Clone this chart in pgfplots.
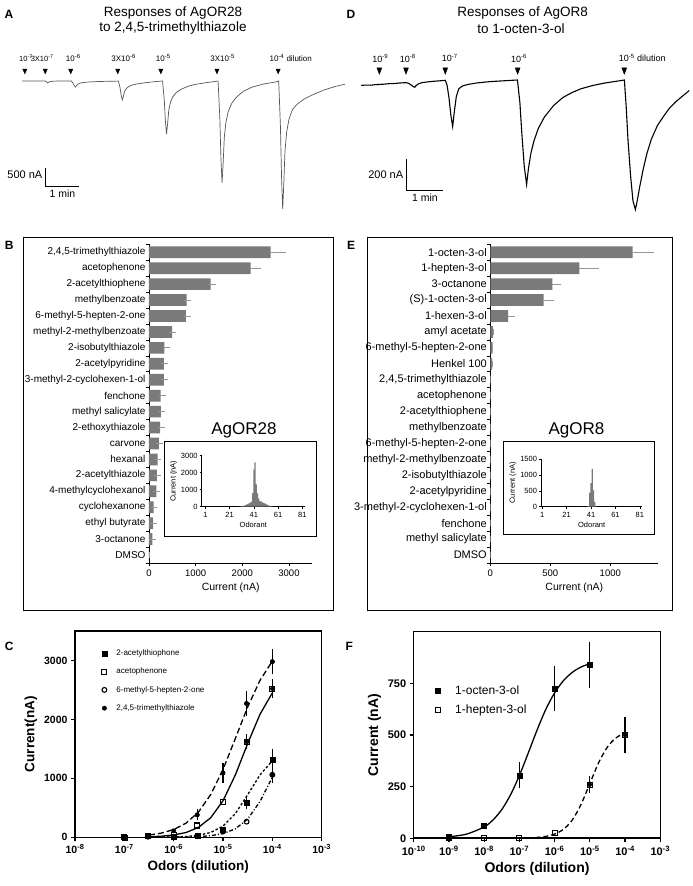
\documentclass[border=0pt]{standalone}
\usepackage{fontspec}
\setmainfont{Liberation Sans}
\usepackage{pgfplots}
\pgfplotsset{compat=1.18}
\usepackage{pgfplotstable}
\newcommand\fs[1]{\fontsize{#1}{#1}\selectfont}
\definecolor{bargray}{RGB}{122,122,122}
\definecolor{errgray}{RGB}{150,150,150}
\definecolor{tracegray}{RGB}{85,85,85}
\pgfplotsset{every axis/.append style={/pgf/number format/assume math mode=true,/pgf/number format/1000 sep={},scaled ticks=false}}

\pgfplotstableread{
t i
0 0
20 0
38 0
41 0
43 -20
45 -56
47 -35
50 -15
56 -5
65 0
84 0
87 0
90 -58
92 -125
94 -167
96 -134
98 -92
101 -67
105 -50
111 -37
119 -27
132 -17
147 -10
167 -4
170 -2
173 -185
175 -396
177 -528
179 -422
181 -290
184 -211
188 -158
194 -116
202 -84
215 -53
230 -25
244 -5
248 0
251 -515
253 -1104
255 -1472
257 -1178
259 -810
262 -589
266 -442
272 -324
280 -236
293 -147
308 -88
328 -40
342 -10
346 0
349 -992
351 -2125
353 -2833
355 -2266
357 -1558
360 -1133
364 -850
370 -623
378 -453
391 -283
406 -170
426 -85
450 -20
453 0
456 -1245
458 -2667
460 -3556
462 -2845
464 -1956
467 -1422
471 -1067
477 -800
485 -650
498 -500
513 -380
533 -250
553 -150
570 -90
}\traceA

\pgfplotstableread{
t i
0 -38
8 -36
16 -37
24 -33
30 -32
38 -30
46 -27
54 -26
62 -23
70 -21
74 -20
78 -25
82 -35
86 -47
88 -50
90 -40
94 -28
100 -20
110 -15
120 -11
130 -8
138 -5
141 -40
144 -120
147 -230
150 -306
153 -200
156 -110
160 -60
166 -42
175 -32
190 -22
210 -14
230 -9
256 -3
260 -150
263 -340
267 -560
271 -684
274 -580
278 -480
283 -400
290 -320
300 -245
315 -170
330 -118
345 -85
360 -60
380 -38
400 -22
420 -10
431 -3
434 -180
437 -400
441 -620
445 -790
449 -847
452 -790
456 -700
462 -580
468 -480
475 -390
485 -300
495 -240
505 -185
515 -145
527 -105
537 -72
}\traceD

\pgfplotstableread{
y x e
19 2608 249
18 2179 150
17 1322 35
16 807 15
15 793 30
14 493 10
13 328 43
12 321 8
11 321 8
10 250 35
9 257 10
8 236 36
7 214 5
6 186 5
5 171 5
4 157 5
3 100 5
2 86 5
1 71 5
0 0 0
}\tabB

\pgfplotstableread{
y x e
19 1187 152
18 742 133
17 517 47
16 445 55
15 148 30
14 22 0
13 20 0
12 15 0
11 0 0
10 0 0
9 0 0
8 0 0
7 0 0
6 0 0
5 0 0
4 0 0
3 0 0
2 0 0
1 0 0
0 0 0
}\tabE

\pgfplotstableread{
x y
28 5
29 10
30 20
31 35
32 50
33 70
34 90
35 120
36 160
37 200
38 240
39 300
40 800
41 2180
42 2610
43 1320
44 790
45 490
46 330
47 320
48 250
49 220
50 190
51 160
52 110
53 80
54 60
55 40
56 20
57 10
}\insB

\pgfplotstableread{
x y
38 15
39 20
40 445
41 742
42 1187
43 517
44 148
45 22
}\insE

\begin{document}
\begin{tikzpicture}
\useasboundingbox (0pt,0pt) rectangle (693pt,886pt);

% panel letters
\node[font=\bfseries\fs{12}] at (9pt,872pt) {A};
\node[font=\bfseries\fs{12}] at (351pt,872pt) {D};
\node[font=\bfseries\fs{12}] at (9.3pt,641pt) {B};
\node[font=\bfseries\fs{12}] at (351pt,641pt) {E};
\node[font=\bfseries\fs{12}] at (9.3pt,239.3pt) {C};
\node[font=\bfseries\fs{12}] at (349.3pt,240pt) {F};

% titles
\node[font=\fs{13.5}] at (173pt,872.7pt) {Responses of AgOR28};
\node[font=\fs{13.5}] at (173pt,857.7pt) {to 2,4,5-trimethylthiazole};
\node[font=\fs{13.5}] at (522.7pt,872.7pt) {Responses of AgOR8};
\node[font=\fs{13.5}] at (521pt,857.7pt) {to 1-octen-3-ol};

% ---------------- A ----------------
\begin{axis}[at={(22pt,671.8pt)}, anchor=south west, x=0.5667pt, y=0.036pt,
  xmin=0, xmax=570, ymin=-3700, ymax=800, axis lines=none, clip=false]
\addplot[tracegray, line width=0.7pt] table[x=t,y=i]{\traceA};
\addplot[only marks, mark=triangle*, mark size=2.4pt, mark options={rotate=180, yscale=1.3, fill=black, draw=black}]
  coordinates {(5,286)(41,286)(86,286)(169,286)(245,286)(344,286)(452,286)};
\node[font=\fs{7.5}, inner sep=0pt] at (axis cs:7,639) {10\textsuperscript{-7}};
\node[font=\fs{7.5}, inner sep=0pt] at (axis cs:35.5,639) {3X10\textsuperscript{-7}};
\node[font=\fs{8}, inner sep=0pt] at (axis cs:90.6,639) {10\textsuperscript{-6}};
\node[font=\fs{8}, inner sep=0pt] at (axis cs:179.4,639) {3X10\textsuperscript{-6}};
\node[font=\fs{8}, inner sep=0pt] at (axis cs:249.4,639) {10\textsuperscript{-5}};
\node[font=\fs{8}, inner sep=0pt] at (axis cs:354.1,639) {3X10\textsuperscript{-5}};
\node[font=\fs{8}, anchor=west, inner sep=0pt] at (axis cs:436.5,639) {10\textsuperscript{-4} dilution};
\draw[black, line width=0.8pt] (axis cs:40.6,-2417) -- (axis cs:40.6,-2917) -- (axis cs:100.6,-2917);
\node[anchor=east, font=\fs{11}, inner sep=1pt] at (axis cs:38,-2611) {500 nA};
\node[font=\fs{10.5}] at (axis cs:71.2,-3120) {1 min};
\end{axis}

% ---------------- D ----------------
\begin{axis}[at={(361pt,668.3pt)}, anchor=south west, x=0.6111pt, y=0.1535pt,
  xmin=0, xmax=540, ymin=-900, ymax=200, axis lines=none, clip=false]
\addplot[black, line width=1.1pt] table[x=t,y=i]{\traceD};
\addplot[only marks, mark=triangle*, mark size=2.8pt, mark options={rotate=180, yscale=1.5, fill=black, draw=black}]
  coordinates {(30,62)(73.6,62)(137.9,62)(256.3,62)(430.8,62)};
\node[font=\fs{9}] at (axis cs:31.4,140) {10\textsuperscript{-9}};
\node[font=\fs{9}] at (axis cs:76.4,140) {10\textsuperscript{-8}};
\node[font=\fs{9}] at (axis cs:145.3,140) {10\textsuperscript{-7}};
\node[font=\fs{9}] at (axis cs:258.5,140) {10\textsuperscript{-6}};
\node[font=\fs{9}, anchor=west, inner sep=0pt] at (axis cs:421.6,140) {10\textsuperscript{-5} dilution};
\draw[black, line width=0.8pt] (axis cs:74.8,-520) -- (axis cs:74.8,-720) -- (axis cs:134.8,-720);
\node[anchor=east, font=\fs{11}, inner sep=1pt] at (axis cs:71,-622) {200 nA};
\node[font=\fs{10.5}] at (axis cs:104.7,-767) {1 min};
\end{axis}

% ---------------- frames B / E ----------------
\draw[line width=0.9pt] (23pt,276pt) rectangle (333pt,649pt);
\draw[line width=0.9pt] (367.7pt,276pt) rectangle (672.7pt,649pt);
\draw[line width=0.9pt] (164pt,350pt) rectangle (316pt,445pt);
\draw[line width=0.9pt] (503.3pt,351.5pt) rectangle (654pt,445pt);
\node[font=\fs{17}] at (244pt,456pt) {AgOR28};
\node[font=\fs{17}] at (576.5pt,456pt) {AgOR8};

% ---------------- B ----------------
\begin{axis}[at={(149pt,323pt)}, anchor=south west, scale only axis, width=163.3pt, height=318.7pt,
  xmin=0, xmax=3500, ymin=-0.5, ymax=19.5,
  axis x line=bottom, axis y line=left, axis line style={-, line width=0.6pt},
  xtick={0,1000,2000,3000}, ytick={-0.5,0.5,...,19.5}, yticklabels={},
  extra y ticks={0,...,19},
  extra y tick labels={DMSO,3-octanone,ethyl butyrate,cyclohexanone,4-methylcyclohexanol,2-acetylthiazole,hexanal,carvone,2-ethoxythiazole,methyl salicylate,fenchone,3-methyl-2-cyclohexen-1-ol,2-acetylpyridine,2-isobutylthiazole,methyl-2-methylbenzoate,6-methyl-5-hepten-2-one,methylbenzoate,2-acetylthiophene,acetophenone,{2,4,5-trimethylthiazole}},
  extra y tick style={major tick length=0pt},
  tick align=outside, major tick length=3pt, tick style={black, line width=0.6pt},
  yticklabel style={font=\fs{10}},
  xticklabel style={font=\fs{9.5}},
  xlabel={Current (nA)}, xlabel style={font=\fs{10.5}},
  xbar, bar width=11.7pt]
\addplot[fill=bargray, draw=none, error bars/.cd, x dir=plus, x explicit,
  error bar style={errgray, line width=0.8pt}, error mark options={errgray, mark size=3.3pt, line width=0.8pt}]
  table[x=x, y=y, x error=e]{\tabB};
\end{axis}

% ---------------- E ----------------
\begin{axis}[at={(490.3pt,323pt)}, anchor=south west, scale only axis, width=168pt, height=318.7pt,
  xmin=0, xmax=1400, ymin=-0.5, ymax=19.5,
  axis x line=bottom, axis y line=left, axis line style={-, line width=0.6pt},
  xtick={0,500,1000}, ytick={-0.5,0.5,...,19.5}, yticklabels={},
  extra y ticks={0,...,19},
  extra y tick labels={DMSO,methyl salicylate,fenchone,3-methyl-2-cyclohexen-1-ol,2-acetylpyridine,2-isobutylthiazole,methyl-2-methylbenzoate,6-methyl-5-hepten-2-one,methylbenzoate,2-acetylthiophene,acetophenone,{2,4,5-trimethylthiazole},Henkel 100,6-methyl-5-hepten-2-one,amyl acetate,1-hexen-3-ol,(S)-1-octen-3-ol,3-octanone,1-hepten-3-ol,1-octen-3-ol},
  extra y tick style={major tick length=0pt},
  tick align=outside, major tick length=3pt, tick style={black, line width=0.6pt},
  yticklabel style={font=\fs{11}},
  xticklabel style={font=\fs{9.5}},
  xlabel={Current (nA)}, xlabel style={font=\fs{10.5}},
  xbar, bar width=11.7pt]
\addplot[fill=bargray, draw=none, error bars/.cd, x dir=plus, x explicit,
  error bar style={errgray, line width=0.8pt}, error mark options={errgray, mark size=3.3pt, line width=0.8pt}]
  table[x=x, y=y, x error=e]{\tabE};
\end{axis}

% ---------------- inset B ----------------
\begin{axis}[at={(201.7pt,379.3pt)}, anchor=south west, scale only axis, width=103.1pt, height=51pt,
  xmin=-2, xmax=83, ymin=0, ymax=3000,
  axis lines=left, axis line style={-, line width=0.5pt},
  xtick={1,21,41,61,81}, ytick={0,1000,2000,3000},
  tick align=outside, major tick length=2pt, tick style={black, line width=0.5pt},
  ticklabel style={font=\fs{7.5}},
  yticklabel style={xshift=1.5pt},
  xlabel={Odorant}, ylabel={Current (nA)}, label style={font=\fs{7.5}},
  xlabel style={yshift=2pt}, ylabel style={yshift=-3pt},
  ybar, bar width=1]
\addplot[fill=bargray, draw=none] table[x=x,y=y]{\insB};
\end{axis}

% ---------------- inset E ----------------
\begin{axis}[at={(541pt,379.3pt)}, anchor=south west, scale only axis, width=101.3pt, height=47.7pt,
  xmin=0, xmax=83, ymin=0, ymax=1500,
  axis lines=left, axis line style={-, line width=0.5pt},
  xtick={1,21,41,61,81}, ytick={0,500,1000,1500},
  tick align=outside, major tick length=2pt, tick style={black, line width=0.5pt},
  ticklabel style={font=\fs{7.5}},
  yticklabel style={xshift=1.5pt},
  xlabel={Odorant}, ylabel={Current (nA)}, label style={font=\fs{7.5}},
  xlabel style={yshift=2pt}, ylabel style={yshift=-3pt},
  ybar, bar width=1]
\addplot[fill=bargray, draw=none] table[x=x,y=y]{\insE};
\end{axis}

% ---------------- C ----------------
\begin{axis}[at={(75pt,48.7pt)}, anchor=south west, scale only axis, width=246.7pt, height=206.3pt,
  xmode=log, xmin=1e-8, xmax=1e-3, ymin=0, ymax=3500,
  xtick={1e-8,1e-7,1e-6,1e-5,1e-4,1e-3},
  xticklabels={10\textsuperscript{-8},10\textsuperscript{-7},10\textsuperscript{-6},10\textsuperscript{-5},10\textsuperscript{-4},10\textsuperscript{-3}},
  xminorticks=false, ytick={0,1000,2000,3000},
  tick pos=left, tick align=outside, major tick length=4pt,
  axis line style={line width=1.6pt}, tick style={line width=1.3pt, black},
  ticklabel style={font=\bfseries\fs{10.5}},
  xlabel={Odors (dilution)}, ylabel={Current(nA)}, label style={font=\bfseries\fs{13.5}},
  legend style={draw=none, fill=none, at={(0.09,0.93)}, anchor=north west, font=\fs{8}, row sep=7pt},
  legend cell align=left,
  legend image code/.code={\draw[#1] plot coordinates {(4pt,0pt)}; \path[draw=none,fill=none] (0pt,-2pt) rectangle (14pt,2pt);},
  clip=false]
% fitted curves
\addplot[forget plot, black, line width=1.3pt, dash pattern=on 6pt off 3pt] coordinates {
 (3.162e-7,38)(5.623e-7,71)(1e-6,131)(1.778e-6,240)(3.162e-6,425)(5.623e-6,724)(1e-5,1150)(1.778e-5,1676)(3.162e-5,2212)(5.623e-5,2664)(1e-4,2989)};
\addplot[forget plot, black, line width=1.3pt] coordinates {
 (3.162e-7,8.8)(5.623e-7,18.6)(1e-6,39)(1.778e-6,81)(3.162e-6,167)(5.623e-6,331)(1e-5,620)(1.778e-5,1058)(3.162e-5,1591)(5.623e-5,2088)(1e-4,2450)};
\addplot[forget plot, black, line width=1.3pt, dash pattern=on 2.5pt off 2pt] coordinates {
 (3.162e-7,0.9)(5.623e-7,2.2)(1e-6,5.4)(1.778e-6,13.6)(3.162e-6,33.6)(5.623e-6,81.8)(1e-5,190)(1.778e-5,402)(3.162e-5,723)(5.623e-5,1059)(1e-4,1300)};
\addplot[forget plot, black, line width=1.3pt, dash pattern=on 4pt off 2pt on 1pt off 2pt] coordinates {
 (3.162e-7,0.3)(5.623e-7,0.7)(1e-6,2.1)(1.778e-6,4.9)(3.162e-6,11.5)(5.623e-6,27)(1e-5,63)(1.778e-5,143)(3.162e-5,310)(5.623e-5,607)(1e-4,1020)};
% error bars
\addplot[forget plot, only marks, mark=none, error bars/.cd, y dir=both, y explicit,
  error bar style={black, solid, line width=1.2pt}, error mark options={black, line width=1.2pt, mark size=3.2pt}]
  coordinates {(3e-5,590) +- (0,50) (1e-4,1310) +- (0,130) (3e-5,1620) +- (0,70) (1e-4,2520) +- (0,110)
  (1e-4,1060) +- (0,90) (3e-6,380) +- (0,40) (1e-5,1090) +- (0,110) (3e-5,2270) +- (0,160) (1e-4,2980) +- (0,160)};
% markers
\addplot[only marks, mark=square*, mark size=2.5pt, mark options={fill=black, draw=black, solid}] coordinates {
 (1e-7,0)(3e-7,20)(1e-6,10)(3e-6,30)(1e-5,130)(3e-5,590)(1e-4,1310)};
\addlegendentry{2-acetylthiophone}
\addplot[only marks, mark=square, mark size=2.5pt, mark options={fill=white, draw=black, solid, line width=1.1pt}] coordinates {
 (1e-7,0)(3e-7,20)(1e-6,40)(3e-6,200)(1e-5,600)(3e-5,1620)(1e-4,2520)};
\addlegendentry{acetophenone}
\addplot[only marks, mark=o, mark size=2.4pt, mark options={fill=white, draw=black, solid, line width=1.1pt}] coordinates {
 (1e-7,0)(3e-7,10)(1e-6,0)(3e-6,20)(1e-5,100)(3e-5,265)(1e-4,1060)};
\addlegendentry{6-methyl-5-hepten-2-one}
\addplot[only marks, mark=*, mark size=2.2pt, mark options={fill=black, draw=black, solid}] coordinates {
 (1e-7,0)(3e-7,30)(1e-6,110)(3e-6,380)(1e-5,1090)(3e-5,2270)(1e-4,2980)};
\addlegendentry{2,4,5-trimethylthiazole}
\end{axis}

% ---------------- F ----------------
\begin{axis}[at={(413.7pt,47.7pt)}, anchor=south west, scale only axis, width=246.6pt, height=206.6pt,
  xmode=log, xmin=1e-10, xmax=1e-3, ymin=0, ymax=1000,
  xtick={1e-10,1e-9,1e-8,1e-7,1e-6,1e-5,1e-4,1e-3},
  xticklabels={10\textsuperscript{-10},10\textsuperscript{-9},10\textsuperscript{-8},10\textsuperscript{-7},10\textsuperscript{-6},10\textsuperscript{-5},10\textsuperscript{-4},10\textsuperscript{-3}},
  xminorticks=false, ytick={0,250,500,750},
  tick pos=left, tick align=outside, major tick length=4pt,
  axis line style={line width=1.6pt}, tick style={line width=1.3pt, black},
  ticklabel style={font=\bfseries\fs{11}},
  xlabel={Odors (dilution)}, ylabel={Current (nA)}, label style={font=\bfseries\fs{14}},
  legend style={draw=none, fill=none, at={(0.07,0.76)}, anchor=north west, font=\fs{12}, row sep=5pt},
  legend cell align=left,
  legend image code/.code={\draw[#1] plot coordinates {(4pt,0pt)}; \path[draw=none,fill=none] (0pt,-2pt) rectangle (19pt,2pt);},
  clip=false]
\addplot[forget plot, black, line width=1.3pt, smooth] coordinates {
 (1e-9,7.3)(3.162e-9,20.3)(1e-8,55)(1.778e-8,88.5)(3.162e-8,139)(5.623e-8,211)(1e-7,304)(1.778e-7,412)(3.162e-7,523)(5.623e-7,624)(1e-6,704)(1.778e-6,763)(3.162e-6,803)(5.623e-6,829)(1e-5,845)};
\addplot[forget plot, black, line width=1.3pt, dash pattern=on 5pt off 3pt, smooth] coordinates {
 (1e-7,0.84)(1.778e-7,1.9)(3.162e-7,4.2)(5.623e-7,9.3)(1e-6,20.3)(1.778e-6,43.4)(3.162e-6,88)(5.623e-6,164)(1e-5,265)(1.778e-5,366)(3.162e-5,442)(5.623e-5,487)(1e-4,510)};
\addplot[forget plot, only marks, mark=none, error bars/.cd, y dir=both, y explicit,
  error bar style={black, solid, line width=1.2pt}, error mark options={black, line width=1.2pt, mark size=3.5pt}]
  coordinates {(1e-7,305) +- (0,45) (1e-6,725) +- (0,90) (1e-5,840) +- (0,95) (1e-5,260) +- (0,25) (1e-4,500) +- (0,72)};
\addplot[only marks, mark=square*, mark size=2.5pt, mark options={fill=black, draw=black, solid}] coordinates {
 (1e-9,10)(1e-8,60)(1e-7,305)(1e-6,725)(1e-5,840)};
\addlegendentry{1-octen-3-ol}
\addplot[only marks, mark=square, mark size=2.5pt, mark options={fill=white, draw=black, solid, line width=1.1pt}] coordinates {
 (1e-9,0)(1e-8,0)(1e-7,0)(1e-6,25)(1e-5,260)(1e-4,500)};
\addlegendentry{1-hepten-3-ol}
\end{axis}
\end{tikzpicture}
\end{document}
